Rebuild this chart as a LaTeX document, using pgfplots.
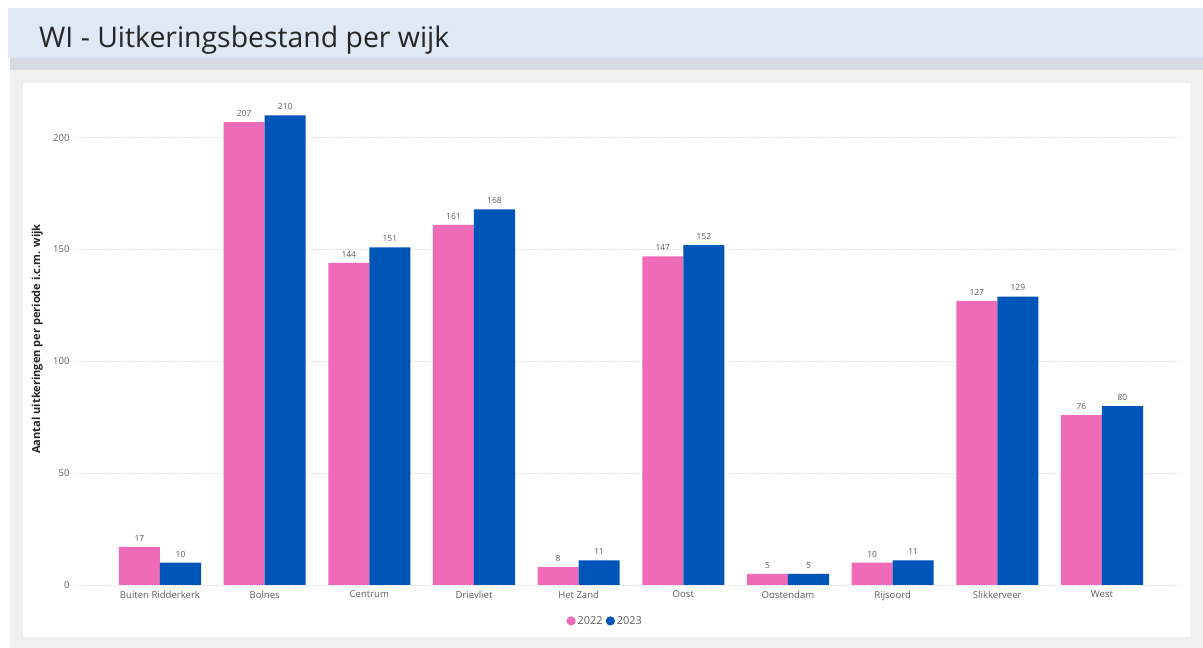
\documentclass[border=0pt]{standalone}
\usepackage{pgfplots}
\pgfplotsset{compat=1.18}
\usepackage{fontspec}
\setmainfont{Open Sans}
\definecolor{pinkbar}{RGB}{240,107,183}
\definecolor{bluebar}{RGB}{0,86,184}
\definecolor{titlebg}{RGB}{222,233,245}
\definecolor{bandgray}{RGB}{214,218,226}
\definecolor{bggray}{RGB}{240,240,240}
\definecolor{ticktext}{RGB}{96,94,92}
\definecolor{gridc}{RGB}{215,215,215}
\begin{document}
\begin{tikzpicture}
\fill[white] (0bp,0bp) rectangle (1203bp,648bp);
\fill[titlebg] (8bp,590bp) rectangle (1203bp,640bp);
\fill[bandgray] (10bp,578bp) rectangle (1203bp,590bp);
\fill[bggray] (10bp,0bp) rectangle (1203bp,578bp);
\fill[white] (23bp,11bp) rectangle (1190bp,565bp);
\node[anchor=base west,inner sep=0pt,text=black!85,font=\fontsize{28.5}{32}\selectfont] at (39bp,600bp) {WI - Uitkeringsbestand per wijk};
\begin{axis}[
  at={(75bp,63bp)}, anchor=south west,
  width=1107bp, height=492bp, scale only axis,
  ybar=0pt, bar width=0.392,
  xmin=-0.812, xmax=9.764, ymin=0, ymax=220,
  axis line style={draw=none},
  /pgf/number format/assume math mode=true,
  xtick={0,...,9},
  xticklabels={Buiten Ridderkerk,Bolnes,Centrum,Drievliet,Het Zand,Oost,Oostendam,Rijsoord,Slikkerveer,West},
  ytick={0,50,100,150,200},
  xtick style={draw=none}, ytick style={draw=none},
  ymajorgrids, grid style={gridc,dotted,line width=0.8pt},
  tick label style={text=ticktext},
  xticklabel style={font=\fontsize{9.6}{11}\selectfont, yshift=2bp},
  yticklabel style={font=\fontsize{9.5}{11}\selectfont, xshift=-2bp},
  ylabel={Aantal uitkeringen per periode i.c.m. wijk},
  every axis y label/.style={at={(axis description cs:-0.034,0.5)},rotate=90,anchor=center,font=\fontsize{11.1}{12}\selectfont\bfseries,text=black!85},
  nodes near coords,
  every node near coord/.append style={font=\fontsize{8.5}{10}\selectfont,text=ticktext,yshift=2bp},
  legend style={at={(axis description cs:0.479,-0.073)},anchor=center,draw=none,fill=none,
    font=\fontsize{11}{12}\selectfont, text=ticktext, legend columns=2,
    /tikz/every even column/.append style={column sep=1bp}},
  legend image code/.code={\fill[#1,draw=none] (0.25cm,0cm) circle (4.6bp);},
]
\addplot[fill=pinkbar,draw=none] coordinates {(0,17) (1,207) (2,144) (3,161) (4,8) (5,147) (6,5) (7,10) (8,127) (9,76)};
\addplot[fill=bluebar,draw=none] coordinates {(0,10) (1,210) (2,151) (3,168) (4,11) (5,152) (6,5) (7,11) (8,129) (9,80)};
\legend{2022,2023}
\end{axis}
\end{tikzpicture}
\end{document}
